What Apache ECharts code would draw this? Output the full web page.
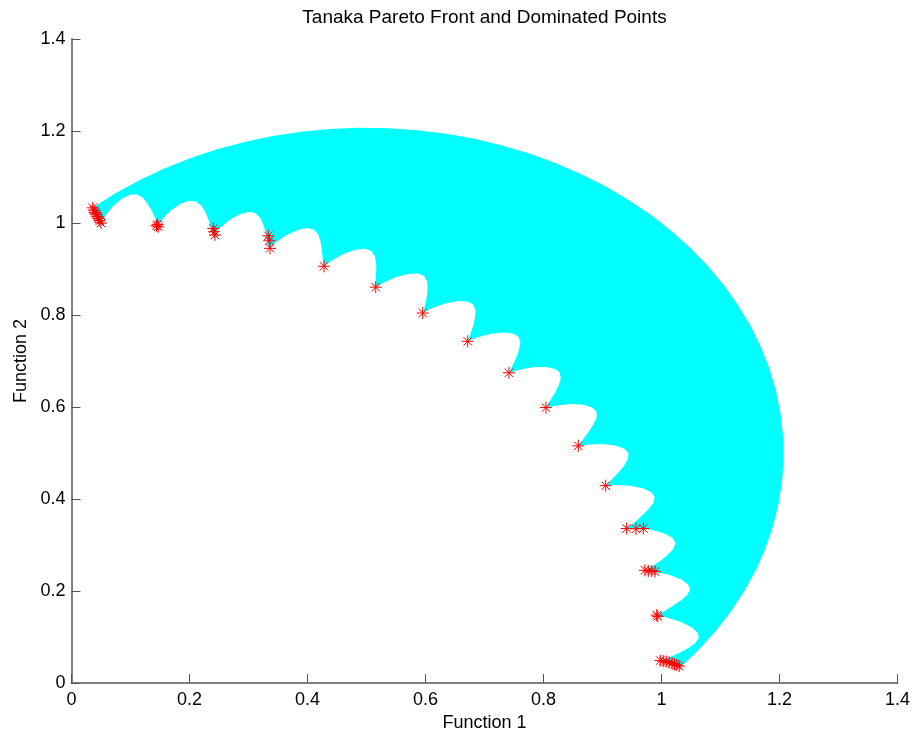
<!DOCTYPE html>
<html>
<head>
<meta charset="utf-8">
<script src="https://cdn.jsdelivr.net/npm/echarts@6/dist/echarts.min.js"></script>
<style>
  html, body { margin: 0; padding: 0; background: #ffffff; }
  #chart { width: 915px; height: 737px; }
</style>
</head>
<body>
<div id="chart"></div>
<script>
// Axis ticks
const xTicks = [0, 0.2, 0.4, 0.6, 0.8, 1, 1.2, 1.4];
const yTicks = [0, 0.2, 0.4, 0.6, 0.8, 1, 1.2, 1.4];

// Scalloped inner edge of the feasible region, as
// [angle from the Function 2 axis in degrees, distance from the origin]
const innerEdge = [
  [2.00, 1.034], [2.40, 1.018],
  [2.90, 0.999], [3.24, 1.018], [3.90, 1.040], [4.70, 1.058], [5.40, 1.067], [6.00, 1.068], [6.60, 1.061], [7.10, 1.049], [7.60, 1.034], [8.05, 1.018],
  [8.27, 1.004], [8.61, 1.018], [9.27, 1.040], [10.07, 1.058], [10.77, 1.067], [11.37, 1.068], [11.97, 1.061], [12.47, 1.049], [12.97, 1.034], [13.42, 1.018],
  [13.84, 1.002], [14.18, 1.018], [14.84, 1.040], [15.64, 1.058], [16.34, 1.067], [16.94, 1.068], [17.54, 1.061], [18.04, 1.049], [18.54, 1.034], [18.99, 1.018],
  [19.52, 1.003], [19.86, 1.018], [20.52, 1.040], [21.32, 1.058], [22.02, 1.067], [22.62, 1.068], [23.22, 1.061], [23.72, 1.049], [24.22, 1.034], [24.72, 1.018],
  [25.28, 1.002], [25.62, 1.018], [26.28, 1.040], [27.08, 1.058], [27.78, 1.067], [28.38, 1.068], [28.98, 1.061], [29.48, 1.049], [29.98, 1.034], [30.43, 1.018],
  [30.93, 1.003], [31.27, 1.018], [31.93, 1.040], [32.73, 1.058], [33.43, 1.067], [34.03, 1.068], [34.63, 1.061], [35.13, 1.049], [35.63, 1.034], [36.08, 1.018],
  [36.50, 1.001], [36.84, 1.018], [37.50, 1.040], [38.30, 1.058], [39.00, 1.067], [39.60, 1.068], [40.20, 1.061], [40.70, 1.049], [41.20, 1.034], [41.65, 1.018],
  [42.11, 1.001], [42.45, 1.018], [43.11, 1.040], [43.91, 1.058], [44.61, 1.067], [45.21, 1.068], [45.81, 1.061], [46.31, 1.049], [46.81, 1.034], [47.26, 1.018],
  [47.71, 1.002], [48.05, 1.018], [48.71, 1.040], [49.51, 1.058], [50.21, 1.067], [50.81, 1.068], [51.41, 1.061], [51.91, 1.049], [52.41, 1.034], [52.86, 1.018],
  [53.33, 1.003], [53.67, 1.018], [54.33, 1.040], [55.13, 1.058], [55.83, 1.067], [56.43, 1.068], [57.03, 1.061], [57.53, 1.049], [58.03, 1.034], [58.53, 1.018],
  [59.02, 1.002], [59.36, 1.018], [60.02, 1.040], [60.82, 1.058], [61.52, 1.067], [62.12, 1.068], [62.72, 1.061], [63.22, 1.049], [63.72, 1.034], [64.17, 1.018],
  [64.64, 1.002], [64.98, 1.018], [65.64, 1.040], [66.44, 1.058], [67.14, 1.067], [67.74, 1.068], [68.34, 1.061], [68.84, 1.049], [69.34, 1.034], [69.84, 1.018],
  [70.35, 0.999], [70.69, 1.018], [71.35, 1.040], [72.15, 1.058], [72.85, 1.067], [73.45, 1.068], [74.05, 1.061], [74.55, 1.049], [75.05, 1.034], [75.48, 1.018],
  [75.91, 1.002], [76.25, 1.018], [76.91, 1.040], [77.71, 1.058], [78.41, 1.067], [79.01, 1.068], [79.61, 1.061], [80.11, 1.049], [80.61, 1.034], [81.11, 1.018],
  [81.60, 1.003], [81.94, 1.018], [82.60, 1.040], [83.40, 1.058], [84.10, 1.067], [84.70, 1.068], [85.30, 1.061], [85.80, 1.049], [86.30, 1.034], [86.75, 1.018],
  [87.19, 0.998], [87.53, 1.016], [88.00, 1.033]
];

// Outer circular edge of the feasible region, [Function 1, Function 2]
const outerEdge = [
  [1.0337, 0.0361], [1.0647, 0.0745], [1.0930, 0.1149], [1.1184, 0.1572], [1.1409, 0.2012],
  [1.1602, 0.2466], [1.1762, 0.2932], [1.1890, 0.3409], [1.1984, 0.3894], [1.2044, 0.4384],
  [1.2070, 0.4877], [1.2061, 0.5370], [1.2018, 0.5862], [1.1941, 0.6349], [1.1830, 0.6830],
  [1.1686, 0.7302], [1.1509, 0.7763], [1.1300, 0.8210], [1.1061, 0.8642], [1.0792, 0.9056],
  [1.0495, 0.9450], [1.0172, 0.9822], [1.0000, 1.0000], [0.9822, 1.0172], [0.9450, 1.0495],
  [0.9056, 1.0792], [0.8642, 1.1061], [0.8210, 1.1300], [0.7763, 1.1509], [0.7302, 1.1686],
  [0.6830, 1.1830], [0.6349, 1.1941], [0.5862, 1.2018], [0.5370, 1.2061], [0.4877, 1.2070],
  [0.4384, 1.2044], [0.3894, 1.1984], [0.3409, 1.1890], [0.2932, 1.1762], [0.2466, 1.1602],
  [0.2012, 1.1409], [0.1572, 1.1184], [0.1149, 1.0930], [0.0745, 1.0647], [0.0361, 1.0337]
];

// Pareto front points
const paretoF1 = [
  0.036, 0.038, 0.040, 0.042, 0.044, 0.046, 0.048, 0.050,
  0.144, 0.147, 0.146,
  0.2403, 0.2415, 0.2432,
  0.3336, 0.3353, 0.3364,
  0.428, 0.5156, 0.5953, 0.6715, 0.7415, 0.8042, 0.859, 0.9054,
  0.941, 0.9568, 0.9692,
  0.972, 0.9776, 0.9834, 0.989,
  0.9918, 0.9936,
  0.998, 1.003, 1.008, 1.013, 1.018, 1.022, 1.026, 1.030
];
const paretoF2 = [
  1.033, 1.028, 1.023, 1.019, 1.014, 1.010, 1.005, 1.000,
  0.994, 0.992, 0.997,
  0.988, 0.981, 0.974,
  0.9723, 0.9615, 0.945,
  0.906, 0.8606, 0.8044, 0.7429, 0.6745, 0.5988, 0.5157, 0.4291,
  0.3361, 0.3354, 0.3361,
  0.2452, 0.2439, 0.2439, 0.2424,
  0.1478, 0.145,
  0.049, 0.048, 0.047, 0.045, 0.043, 0.041, 0.039, 0.037
];

const toRad = Math.PI / 180;
const regionOutline = innerEdge
  .map(([a, r]) => [r * Math.sin(a * toRad), r * Math.cos(a * toRad)])
  .concat(outerEdge);

const paretoPoints = paretoF1.map((v, i) => [v, paretoF2[i]]);

const font = '"Liberation Sans", Arial, Helvetica, sans-serif';

const chart = echarts.init(document.getElementById('chart'), null, { renderer: 'canvas' });

const axisCommon = {
  type: 'value',
  min: 0,
  max: 1.4,
  interval: 0.2,
  nameLocation: 'middle',
  nameTextStyle: { color: '#000', fontSize: 18, fontFamily: font },
  axisLine: { show: true, lineStyle: { color: '#808080', width: 2 } },
  axisTick: { show: true, inside: true, length: 9, lineStyle: { color: '#555555', width: 1 } },
  axisLabel: { color: '#000', fontSize: 18, fontFamily: font },
  splitLine: { show: false }
};

chart.setOption({
  animation: false,
  backgroundColor: '#ffffff',
  title: {
    text: 'Tanaka Pareto Front and Dominated Points',
    left: 484.5,
    top: 8,
    padding: 0,
    textAlign: 'center',
    textStyle: { color: '#000', fontSize: 19, fontWeight: 'normal', fontFamily: font }
  },
  grid: { left: 71.5, right: 17.5, top: 39, bottom: 51, containLabel: false },
  xAxis: Object.assign({}, axisCommon, {
    name: 'Function 1',
    nameGap: 29,
    axisLabel: Object.assign({}, axisCommon.axisLabel, { margin: 8 })
  }),
  yAxis: Object.assign({}, axisCommon, {
    name: 'Function 2',
    nameGap: 34,
    nameRotate: 90,
    axisLabel: Object.assign({}, axisCommon.axisLabel, { margin: 6 })
  }),
  series: [
    {
      type: 'custom',
      name: 'Dominated region',
      silent: true,
      clip: true,
      data: [[0, 0]],
      renderItem: function (params, api) {
        const pts = regionOutline.map(p => api.coord(p));
        return {
          type: 'polygon',
          shape: { points: pts },
          style: { fill: '#00ffff', stroke: null }
        };
      },
      z: 1
    },
    {
      type: 'scatter',
      name: 'Pareto front',
      data: paretoPoints,
      symbol: 'path://M0,-5L0,5M-5,0L5,0M-3.5,-3.5L3.5,3.5M-3.5,3.5L3.5,-3.5',
      symbolSize: 12,
      itemStyle: { color: 'rgba(0,0,0,0)', borderColor: '#ff0000', borderWidth: 1, opacity: 1 },
      emphasis: { disabled: true },
      z: 3
    }
  ]
});
</script>
</body>
</html>
